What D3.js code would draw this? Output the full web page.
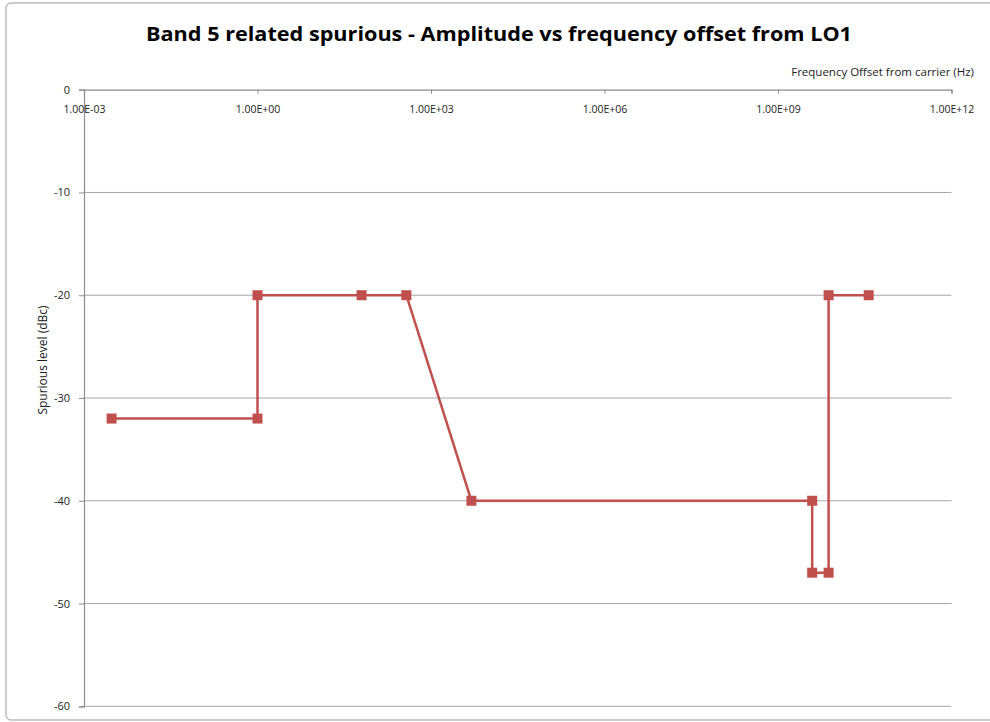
<!DOCTYPE html>
<html><head><meta charset="utf-8">
<script src="https://cdn.jsdelivr.net/npm/d3@7"></script>
<style>body{margin:0;background:#fff;}svg{display:block;font-family:"Open Sans",sans-serif;}</style>
</head><body>
<svg id="c" width="990" height="722"></svg>
<script>
const freqs = [0.003, 1, 1, 63, 375, 5000, 3.9e9, 3.9e9, 7.5e9, 7.5e9, 3.7e10];
const levels = [-32, -32, -20, -20, -20, -40, -40, -47, -47, -20, -20];
const xTicks = [1e-3, 1e0, 1e3, 1e6, 1e9, 1e12];
const yTicks = [0, -10, -20, -30, -40, -50, -60];
const title = "Band 5 related spurious - Amplitude vs frequency offset from LO1";
const xTitle = "Frequency Offset from carrier (Hz)";
const yTitle = "Spurious level (dBc)";

const svg = d3.select("#c");
const L = 84, R = 951.5, T = 89.7, B = 706.3;
const x = d3.scaleLog().domain([1e-3, 1e12]).range([L, R]);
const y = d3.scaleLinear().domain([-60, 0]).range([B, T]);

svg.append("rect").attr("x", 6).attr("y", 3).attr("width", 1000).attr("height", 717)
  .attr("rx", 5).attr("fill", "#fff").attr("stroke", "#bdbdbd").attr("stroke-width", 1.5);

// gridlines
svg.append("g").selectAll("line").data(yTicks.filter(d => d !== 0)).join("line")
  .attr("x1", L).attr("x2", R).attr("y1", d => y(d)).attr("y2", d => y(d))
  .attr("stroke", "#a6a6a6").attr("stroke-width", 1);

// y axis
const ya = svg.append("g").attr("transform", `translate(${L},0)`)
  .call(d3.axisLeft(y).tickValues(yTicks).tickSize(5).tickPadding(9).tickFormat(d => String(d)));
ya.select(".domain").attr("stroke", "#8c8c8c").attr("stroke-width", 1.2);
ya.selectAll(".tick line").attr("stroke", "#8c8c8c");
ya.selectAll(".tick text").attr("font-size", 11).attr("fill", "#222").attr("font-family", "Open Sans");

// x axis on top (at y=0)
const xa = svg.append("g").attr("transform", `translate(0,${y(0)})`)
  .call(d3.axisBottom(x).tickValues(xTicks).tickSize(4).tickPadding(12)
    .tickFormat(d => d.toExponential(2).toUpperCase().replace(/E([+-])(\d)$/, "E$10$2")));
xa.select(".domain").attr("stroke", "#8c8c8c").attr("stroke-width", 1.2);
xa.selectAll(".tick line").attr("stroke", "#8c8c8c");
xa.selectAll(".tick text").attr("font-size", 10.5).attr("fill", "#222").attr("font-family", "Open Sans");

// titles
svg.append("text").attr("x", 499).attr("y", 41).attr("text-anchor", "middle")
  .attr("font-size", 20).attr("font-weight", "bold").attr("fill", "#000")
  .attr("textLength", 706).attr("lengthAdjust", "spacingAndGlyphs").text(title);
svg.append("text").attr("x", 974).attr("y", 76).attr("text-anchor", "end")
  .attr("font-size", 11.5).attr("fill", "#222").text(xTitle);
svg.append("text").attr("transform", "translate(47,360) rotate(-90)").attr("text-anchor", "middle")
  .attr("font-size", 12).attr("fill", "#222").text(yTitle);

// series
const pts = freqs.map((f, i) => [f, levels[i]]);
svg.append("path").datum(pts)
  .attr("d", d3.line().x(d => x(d[0])).y(d => y(d[1])))
  .attr("fill", "none").attr("stroke", "#c0504d").attr("stroke-width", 2.5).attr("stroke-linejoin", "round");
svg.append("g").selectAll("rect").data(pts).join("rect")
  .attr("x", d => x(d[0]) - 5).attr("y", d => y(d[1]) - 5).attr("width", 10).attr("height", 10)
  .attr("fill", "#c0504d");
</script>
</body></html>
